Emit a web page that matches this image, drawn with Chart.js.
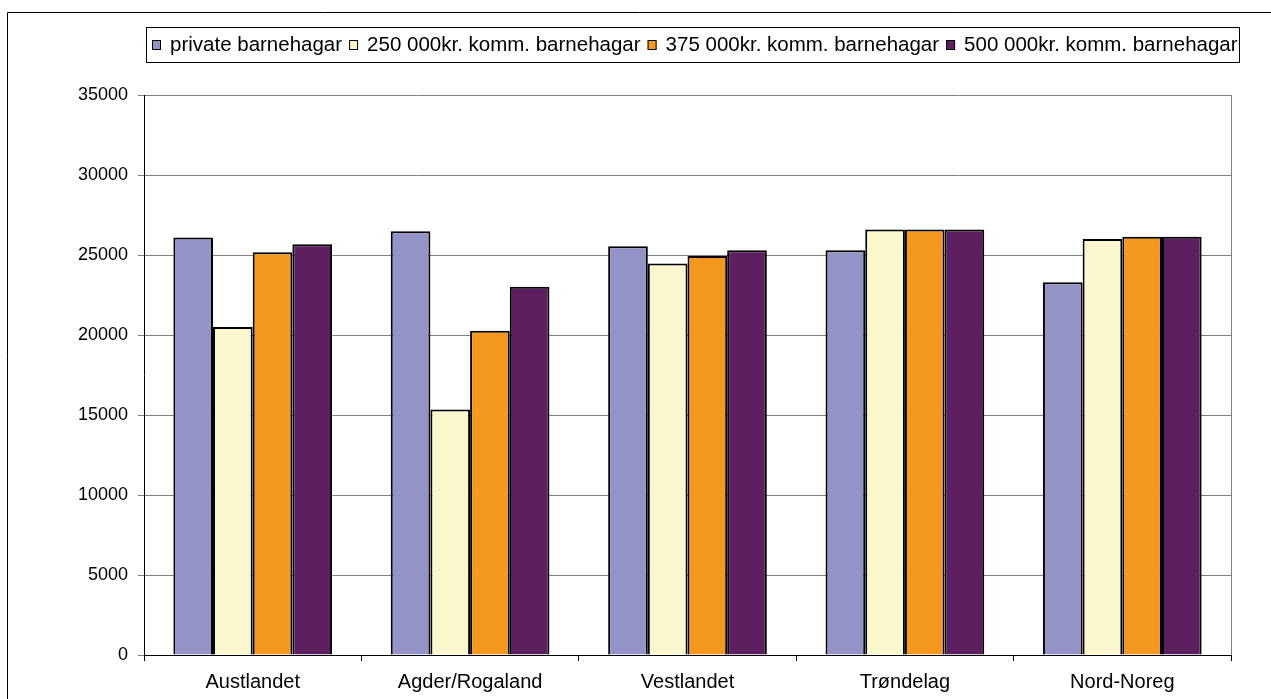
<!DOCTYPE html>
<html>
<head>
<meta charset="utf-8">
<script src="https://cdn.jsdelivr.net/npm/chart.js@4.4.1/dist/chart.umd.min.js"></script>
<style>
  body { margin: 0; background: #fff; }
  #wrap { width: 1271px; height: 699px; }
</style>
</head>
<body>
<div id="wrap"><canvas id="chart" width="1271" height="699"></canvas></div>
<script>
let regions = ['Austlandet', 'Agder/Rogaland', 'Vestlandet', 'Trøndelag', 'Nord-Noreg'];
let seriesNames = ['private barnehagar', '250 000kr. komm. barnehagar', '375 000kr. komm. barnehagar', '500 000kr. komm. barnehagar'];
let privat = [26100, 26480, 25540, 25290, 23290];
let komm250 = [20500, 15350, 24470, 26600, 26000];
let komm375 = [25170, 20270, 24930, 26600, 26140];
let komm500 = [25670, 23020, 25300, 26600, 26140];
let colours = ['#9393c7', '#faf7cf', '#f4981f', '#5e1f60'];

var fontName = '"Liberation Sans", Arial, sans-serif';

// legend box + outer frame + right edge of plot
var extras = {
    id: 'extras',
    afterDraw: function(chart){
        var ctx = chart.ctx;
        var area = chart.chartArea;
        ctx.save();
        ctx.strokeStyle = '#000';
        ctx.lineWidth = 1;
        ctx.beginPath();
        ctx.moveTo(7.5, 699);
        ctx.lineTo(7.5, 12.5);
        ctx.lineTo(1271, 12.5);
        ctx.stroke();

        ctx.strokeStyle = '#808080';
        ctx.beginPath();
        ctx.moveTo(area.right + 0.5, area.top);
        ctx.lineTo(area.right + 0.5, area.bottom);
        ctx.stroke();

        ctx.fillStyle = '#fff';
        ctx.fillRect(146, 27, 1093, 35);
        ctx.strokeStyle = '#000';
        ctx.strokeRect(146.5, 27.5, 1093, 35);

        ctx.font = '20.5px ' + fontName;
        ctx.textBaseline = 'middle';
        var x = 152;
        var cy = 45;
        chart.data.datasets.forEach(function(ds){
            ctx.fillStyle = ds.backgroundColor;
            ctx.fillRect(x, cy - 5, 9, 10);
            ctx.strokeStyle = '#000';
            ctx.strokeRect(x + 0.5, cy - 4.5, 8, 9);
            ctx.fillStyle = '#000';
            ctx.fillText(ds.label, x + 18, cy);
            x += 18 + ctx.measureText(ds.label).width + 7;
        });
        ctx.restore();
    }
};

var ctx = document.getElementById('chart').getContext('2d');
var myChart = new Chart(ctx, {
    type: 'bar',
    data: {
        labels: regions,
        datasets: [privat, komm250, komm375, komm500].map(function(vals, i){
            return {
                label: seriesNames[i],
                data: vals,
                backgroundColor: colours[i],
                borderColor: '#000',
                borderWidth: 2,
                categoryPercentage: 0.73,
                barPercentage: 1
            };
        })
    },
    options: {
        responsive: false,
        animation: false,
        layout: {
            padding: { left: 0, right: 40, top: 95, bottom: 0 }
        },
        plugins: {
            legend: { display: false },
            tooltip: { enabled: false }
        },
        scales: {
            x: {
                afterFit: function(scale){ scale.height = 44; },
                grid: {
                    offset: true,
                    drawOnChartArea: false,
                    drawTicks: true,
                    tickLength: 6,
                    color: '#000'
                },
                border: { color: '#000', width: 1 },
                ticks: {
                    color: '#000',
                    padding: 9,
                    font: { family: fontName, size: 20 }
                }
            },
            y: {
                min: 0,
                max: 35000,
                afterFit: function(scale){ scale.width = 144; },
                grid: {
                    color: '#808080',
                    tickLength: 6,
                    drawTicks: true
                },
                border: { color: '#000', width: 1 },
                ticks: {
                    stepSize: 5000,
                    color: '#000',
                    padding: 10,
                    font: { family: fontName, size: 18 },
                    callback: function(v){ return String(v); }
                }
            }
        }
    },
    plugins: [extras]
});
</script>
</body>
</html>
